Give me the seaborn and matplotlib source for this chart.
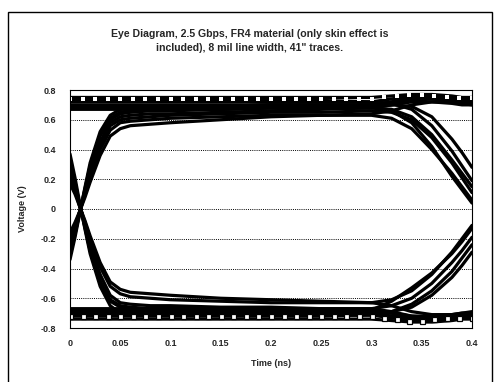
import numpy as np
import pandas as pd
import matplotlib
matplotlib.use("Agg")
import matplotlib.pyplot as plt
from matplotlib.patches import Rectangle
import seaborn as sns

# ---------------- data ----------------
T = [0.000, 0.005, 0.010, 0.015, 0.020, 0.030, 0.040, 0.050, 0.060, 0.080, 0.100,
     0.150, 0.200, 0.250, 0.300, 0.320, 0.340, 0.360, 0.380, 0.390, 0.400]

# steady highs (1-1-1)
hh1 = [0.75, 0.75, 0.75, 0.75, 0.75, 0.75, 0.75, 0.75, 0.75, 0.75, 0.75, 0.75, 0.75, 0.75, 0.75, 0.76, 0.77, 0.77, 0.76, 0.75, 0.75]
hh2 = [0.72, 0.72, 0.72, 0.72, 0.72, 0.72, 0.72, 0.72, 0.72, 0.72, 0.72, 0.72, 0.72, 0.72, 0.72, 0.74, 0.76, 0.76, 0.74, 0.73, 0.73]
hh3 = [0.69, 0.69, 0.69, 0.69, 0.69, 0.69, 0.69, 0.69, 0.69, 0.69, 0.69, 0.69, 0.70, 0.70, 0.70, 0.72, 0.74, 0.74, 0.73, 0.72, 0.71]
hh4 = [0.67, 0.67, 0.67, 0.67, 0.67, 0.67, 0.67, 0.67, 0.67, 0.67, 0.67, 0.67, 0.68, 0.68, 0.68, 0.70, 0.72, 0.72, 0.71, 0.70, 0.70]
# rising at left, staying high (0-1-1)
rh1 = [-0.34, -0.19, -0.02, 0.15, 0.31, 0.52, 0.63, 0.67, 0.68, 0.69, 0.69, 0.69, 0.70, 0.70, 0.70, 0.72, 0.75, 0.76, 0.75, 0.74, 0.73]
rh2 = [-0.25, -0.14, -0.01, 0.12, 0.25, 0.45, 0.58, 0.62, 0.63, 0.64, 0.64, 0.65, 0.66, 0.67, 0.68, 0.70, 0.73, 0.74, 0.73, 0.72, 0.71]
rh3 = [-0.16, -0.09, -0.01, 0.08, 0.18, 0.36, 0.49, 0.54, 0.56, 0.57, 0.58, 0.60, 0.62, 0.63, 0.64, 0.66, 0.70, 0.72, 0.72, 0.71, 0.70]
rh4 = [-0.29, -0.16, -0.02, 0.13, 0.28, 0.49, 0.60, 0.64, 0.65, 0.66, 0.66, 0.67, 0.68, 0.68, 0.69, 0.71, 0.74, 0.75, 0.74, 0.73, 0.72]
# rising at left, falling at right (0-1-0)
rl1 = [-0.31, -0.17, -0.01, 0.14, 0.29, 0.50, 0.61, 0.65, 0.66, 0.67, 0.67, 0.67, 0.68, 0.68, 0.68, 0.67, 0.62, 0.50, 0.33, 0.24, 0.15]
rl2 = [-0.20, -0.11, -0.01, 0.10, 0.21, 0.40, 0.53, 0.58, 0.59, 0.60, 0.61, 0.62, 0.63, 0.63, 0.63, 0.61, 0.54, 0.40, 0.24, 0.15, 0.06]
rl3 = [-0.23, -0.13, -0.01, 0.11, 0.23, 0.43, 0.56, 0.60, 0.61, 0.62, 0.63, 0.64, 0.65, 0.65, 0.66, 0.65, 0.60, 0.48, 0.31, 0.21, 0.11]
# high, falling at right (1-1-0)
hl1 = [0.73, 0.73, 0.73, 0.73, 0.73, 0.73, 0.73, 0.73, 0.73, 0.73, 0.73, 0.73, 0.73, 0.73, 0.72, 0.71, 0.67, 0.56, 0.39, 0.29, 0.19]
hl2 = [0.70, 0.70, 0.70, 0.70, 0.70, 0.70, 0.70, 0.70, 0.70, 0.70, 0.70, 0.70, 0.70, 0.70, 0.70, 0.70, 0.69, 0.62, 0.47, 0.38, 0.28]
hl3 = [0.68, 0.68, 0.68, 0.68, 0.68, 0.68, 0.68, 0.68, 0.68, 0.68, 0.68, 0.68, 0.68, 0.68, 0.68, 0.66, 0.58, 0.42, 0.22, 0.13, 0.04]
# steady lows (0-0-0)
ll1 = [-0.74, -0.74, -0.74, -0.74, -0.74, -0.74, -0.74, -0.74, -0.74, -0.74, -0.74, -0.74, -0.74, -0.74, -0.74, -0.75, -0.76, -0.76, -0.75, -0.74, -0.74]
ll2 = [-0.71, -0.71, -0.71, -0.71, -0.71, -0.71, -0.71, -0.71, -0.71, -0.71, -0.71, -0.71, -0.71, -0.71, -0.71, -0.73, -0.75, -0.75, -0.73, -0.72, -0.72]
ll3 = [-0.69, -0.69, -0.69, -0.69, -0.69, -0.69, -0.69, -0.69, -0.69, -0.69, -0.69, -0.69, -0.70, -0.70, -0.70, -0.72, -0.74, -0.74, -0.73, -0.72, -0.71]
ll4 = [-0.67, -0.67, -0.67, -0.67, -0.67, -0.67, -0.67, -0.67, -0.67, -0.67, -0.67, -0.67, -0.68, -0.68, -0.68, -0.70, -0.72, -0.72, -0.71, -0.70, -0.70]
# falling at left, staying low (1-0-0)
fl1 = [0.37, 0.21, 0.03, -0.14, -0.30, -0.52, -0.65, -0.70, -0.71, -0.71, -0.71, -0.71, -0.71, -0.71, -0.71, -0.72, -0.74, -0.75, -0.74, -0.73, -0.73]
fl2 = [0.27, 0.15, 0.01, -0.11, -0.24, -0.44, -0.58, -0.63, -0.64, -0.65, -0.65, -0.66, -0.66, -0.67, -0.67, -0.69, -0.72, -0.73, -0.72, -0.71, -0.71]
fl3 = [0.17, 0.10, 0.01, -0.08, -0.18, -0.36, -0.49, -0.54, -0.56, -0.57, -0.58, -0.60, -0.61, -0.62, -0.63, -0.65, -0.69, -0.71, -0.71, -0.70, -0.69]
fl4 = [0.31, 0.17, 0.02, -0.12, -0.27, -0.48, -0.62, -0.66, -0.67, -0.68, -0.68, -0.68, -0.69, -0.69, -0.69, -0.70, -0.73, -0.74, -0.73, -0.72, -0.72]
# falling at left, rising at right (1-0-1)
fr1 = [0.33, 0.18, 0.02, -0.13, -0.28, -0.49, -0.61, -0.65, -0.66, -0.67, -0.67, -0.67, -0.67, -0.67, -0.67, -0.65, -0.60, -0.50, -0.36, -0.28, -0.19]
fr2 = [0.21, 0.12, 0.01, -0.09, -0.20, -0.39, -0.52, -0.57, -0.59, -0.60, -0.61, -0.62, -0.63, -0.63, -0.63, -0.61, -0.55, -0.44, -0.29, -0.20, -0.11]
# low, rising at right (0-0-1)
lr1 = [-0.72, -0.72, -0.72, -0.72, -0.72, -0.72, -0.72, -0.72, -0.72, -0.72, -0.72, -0.72, -0.72, -0.72, -0.71, -0.69, -0.64, -0.55, -0.42, -0.33, -0.24]
lr2 = [-0.70, -0.70, -0.70, -0.70, -0.70, -0.70, -0.70, -0.70, -0.70, -0.70, -0.70, -0.70, -0.70, -0.70, -0.70, -0.69, -0.66, -0.58, -0.46, -0.38, -0.29]
lr3 = [-0.68, -0.68, -0.68, -0.68, -0.68, -0.68, -0.68, -0.68, -0.68, -0.68, -0.68, -0.68, -0.68, -0.68, -0.68, -0.62, -0.53, -0.43, -0.30, -0.22, -0.13]

# marker series (row of symbols along the low rail)
TM = [0.000, 0.0125, 0.025, 0.0375, 0.050, 0.0625, 0.075, 0.0875, 0.100, 0.1125, 0.125,
      0.1375, 0.150, 0.1625, 0.175, 0.1875, 0.200, 0.2125, 0.225, 0.2375, 0.250, 0.2625,
      0.275, 0.2875, 0.300, 0.3125, 0.325, 0.3375, 0.350, 0.3625, 0.375, 0.3875, 0.400]
low_mk = [-0.72, -0.72, -0.72, -0.72, -0.72, -0.72, -0.72, -0.72, -0.72, -0.72, -0.72,
          -0.72, -0.72, -0.72, -0.72, -0.72, -0.72, -0.72, -0.72, -0.72, -0.72, -0.72,
          -0.72, -0.72, -0.72, -0.73, -0.74, -0.75, -0.75, -0.74, -0.73, -0.73, -0.73]
high_mk = [0.74, 0.74, 0.74, 0.74, 0.74, 0.74, 0.74, 0.74, 0.74, 0.74, 0.74,
           0.74, 0.74, 0.74, 0.74, 0.74, 0.74, 0.74, 0.74, 0.74, 0.74, 0.74,
           0.74, 0.74, 0.74, 0.75, 0.76, 0.765, 0.765, 0.76, 0.75, 0.745, 0.745]

traces = {"hh1": hh1, "hh2": hh2, "hh3": hh3, "hh4": hh4,
          "rh1": rh1, "rh2": rh2, "rh3": rh3, "rh4": rh4,
          "rl1": rl1, "rl2": rl2, "rl3": rl3, "hl1": hl1, "hl2": hl2, "hl3": hl3,
          "ll1": ll1, "ll2": ll2, "ll3": ll3, "ll4": ll4,
          "fl1": fl1, "fl2": fl2, "fl3": fl3, "fl4": fl4,
          "fr1": fr1, "fr2": fr2, "lr1": lr1, "lr2": lr2, "lr3": lr3}
df = pd.DataFrame([(name, t, v) for name, vals in traces.items() for t, v in zip(T, vals)],
                  columns=["trace", "t", "v"])
mk_low = pd.DataFrame({"t": TM, "v": low_mk})
mk_high = pd.DataFrame({"t": TM, "v": high_mk})

x_ticks = [0, 0.05, 0.1, 0.15, 0.2, 0.25, 0.3, 0.35, 0.4]
x_labels = ["0", "0.05", "0.1", "0.15", "0.2", "0.25", "0.3", "0.35", "0.4"]
y_ticks = [0.8, 0.6, 0.4, 0.2, 0, -0.2, -0.4, -0.6, -0.8]
y_labels = ["0.8", "0.6", "0.4", "0.2", "0", "-0.2", "-0.4", "-0.6", "-0.8"]

# ---------------- drawing ----------------
sns.set_style("white")
plt.rcParams["font.family"] = ["Liberation Sans", "DejaVu Sans"]
plt.rcParams["font.weight"] = "bold"

fig = plt.figure(figsize=(4.94, 3.82), dpi=100)
ax = fig.add_axes([70 / 494, 1 - 328 / 382, 402 / 494, 238 / 382])

ax.set_xlim(0, 0.4)
ax.set_ylim(-0.8, 0.8)
ax.set_yticks(y_ticks)
ax.yaxis.grid(True, linestyle=(0, (1, 1.2)), color="black", linewidth=0.7)
ax.xaxis.grid(False)
ax.set_axisbelow(True)

sns.lineplot(data=df, x="t", y="v", units="trace", estimator=None, color="black",
             linewidth=2.3, ax=ax, legend=False)
sns.lineplot(data=mk_high, x="t", y="v", color="black", linewidth=0,
             marker="s", markersize=2.2, markerfacecolor="white",
             markeredgecolor="white", markeredgewidth=0, ax=ax, legend=False)
sns.lineplot(data=mk_low, x="t", y="v", color="black", linewidth=1.0,
             marker="s", markersize=3.6, markerfacecolor="white",
             markeredgecolor="black", markeredgewidth=0.9, ax=ax, legend=False)

ax.set_xticks(x_ticks)
ax.set_xticklabels(x_labels, fontsize=6.5, fontweight="bold")
ax.set_yticklabels(y_labels, fontsize=6.5, fontweight="bold")
ax.tick_params(length=0, pad=8)
ax.tick_params(axis="y", pad=10)
ax.set_xlabel("Time (ns)", fontsize=6.5, fontweight="bold", labelpad=8)
ax.set_ylabel("Voltage (V)", fontsize=6.5, fontweight="bold", labelpad=10)
for s in ax.spines.values():
    s.set_color("black")
    s.set_linewidth(0.8)

fig.text(0.506, 1 - 41 / 382,
         "Eye Diagram, 2.5 Gbps, FR4 material (only skin effect is\nincluded), 8 mil line width, 41\" traces.",
         ha="center", va="center", fontsize=7.6, fontweight="bold", linespacing=1.6)

fig.patches.append(Rectangle((8 / 494, -0.05), 484 / 494, 1.05 - 12 / 382,
                             transform=fig.transFigure, fill=False,
                             edgecolor="black", linewidth=1.0))

fig.savefig("out.png", dpi=100)
